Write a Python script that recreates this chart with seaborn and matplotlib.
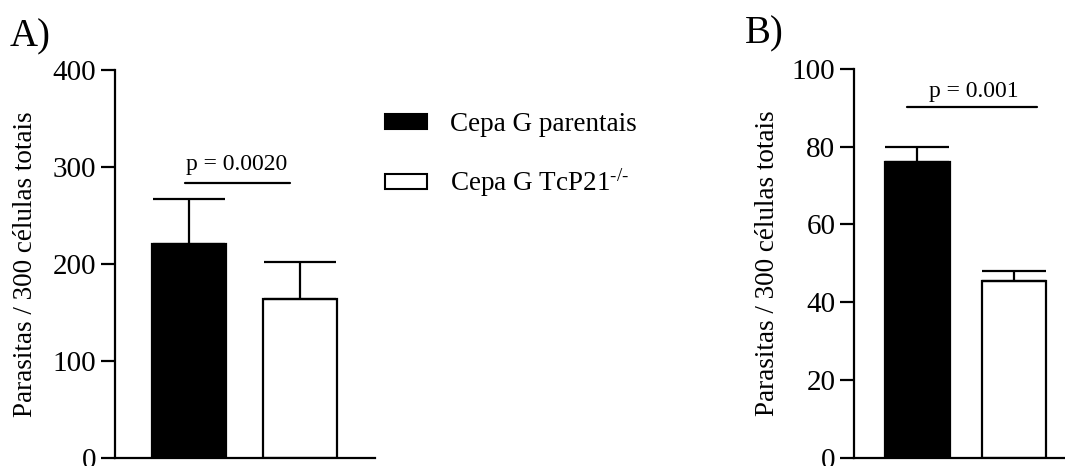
import matplotlib
matplotlib.use("Agg")
import matplotlib.pyplot as plt
import seaborn as sns
import numpy as np
from matplotlib.patches import Patch

groups = ["Cepa G parentais", r"Cepa G TcP21$^{\text{-/-}}$"]
colors = ["black", "white"]

a_means = [220.8, 163.5]
a_sem = [45.9, 38.5]
a_ticks = [0, 100, 200, 300, 400]
a_ptext = "p = 0.0020"

b_means = [76.1, 45.5]
b_sem = [3.9, 2.5]
b_ticks = [0, 20, 40, 60, 80, 100]
b_ptext = "p = 0.001"

ylabel = "Parasitas / 300 células totais"

sns.set_style("ticks")
plt.rcParams["font.family"] = ["Liberation Serif", "DejaVu Serif"]
plt.rcParams["mathtext.fontset"] = "custom"
plt.rcParams["mathtext.rm"] = "Liberation Serif"
plt.rcParams["mathtext.it"] = "Liberation Serif:italic"
for k in ["text.color", "axes.labelcolor", "xtick.color", "ytick.color", "axes.edgecolor"]:
    plt.rcParams[k] = "black"

W, H = 1065, 466
fig = plt.figure(figsize=(W / 100, H / 100), dpi=100)

def px_ax(l, r, t, b):
    return fig.add_axes([l / W, 1 - b / H, (r - l) / W, (b - t) / H])

axA = px_ax(115, 375, 70, 457.7)
axB = px_ax(854, 1065, 69, 457.7)

def draw(ax, means, sem, ticks, xlim, capsize, ptext, pline, ppos, labelx):
    sns.barplot(x=[0, 1], y=means, hue=[0, 1], palette=colors, edgecolor="black",
                linewidth=1.6, width=0.67, ax=ax, legend=False, errorbar=None,
                order=[0, 1])
    ax.errorbar([0, 1], means, yerr=[[0, 0], sem], fmt="none", ecolor="black",
                elinewidth=1.6, capsize=capsize, capthick=1.6, zorder=1)
    ax.set_ylim(ticks[0], ticks[-1])
    ax.set_yticks(ticks)
    ax.set_xlim(*xlim)
    ax.set_xticks([])
    ax.set_xlabel("")
    sns.despine(ax=ax)
    for s in ["left", "bottom"]:
        ax.spines[s].set_linewidth(1.6)
    ax.tick_params(axis="y", length=10, width=1.6, labelsize=21, pad=3.5)
    ax.set_ylabel(ylabel, fontsize=19.5)
    ax.yaxis.set_label_coords(labelx, 0.5)
    ax.plot(pline[0], [pline[1], pline[1]], color="black", lw=1.6, clip_on=False)
    ax.text(ppos[0], ppos[1], ptext, ha="center", va="baseline", fontsize=17)
    ax.patch.set_alpha(0)

draw(axA, a_means, a_sem, a_ticks, (-0.667, 1.676), 26,
     a_ptext, ([-0.036, 0.91], 283.4), (0.43, 297), -0.296)
draw(axB, b_means, b_sem, b_ticks, (-0.658, 1.53), 23,
     b_ptext, ([-0.11, 1.24], 90.1), (0.58, 92.9), -0.351)

fig.text(10 / W, 1 - 46 / H, "A)", fontsize=28, va="baseline", ha="left")
fig.text(745 / W, 1 - 43 / H, "B)", fontsize=28, va="baseline", ha="left")

handles = [Patch(facecolor=c, edgecolor="black", linewidth=1.5) for c in colors]
fig.legend(handles, groups, loc="upper left", bbox_to_anchor=(385 / W, 1 - 112 / H),
           frameon=False, fontsize=19.5, handlelength=1.55, handleheight=0.5,
           handletextpad=0.85, labelspacing=1.1, borderpad=0, borderaxespad=0)

fig.savefig("out.png", dpi=100)
